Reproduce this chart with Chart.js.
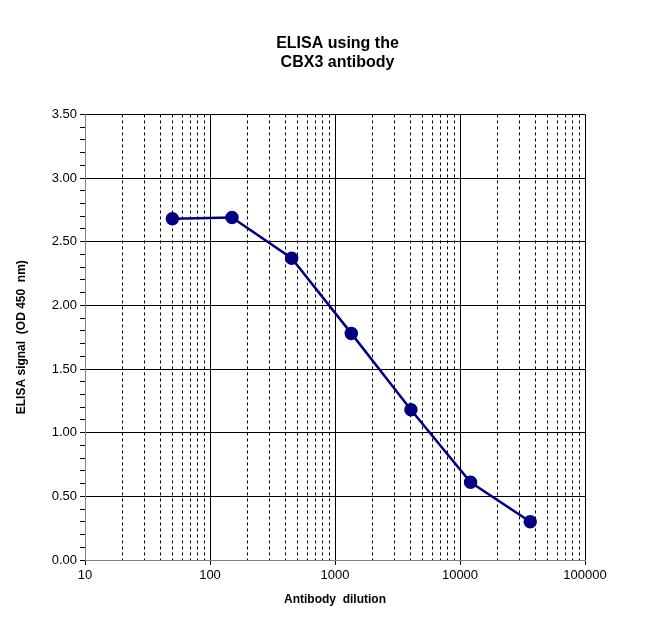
<!DOCTYPE html>
<html><head><script src="https://cdn.jsdelivr.net/npm/chart.js@4"></script>
<style>body{margin:0;background:#fff}#w{width:665px;height:619px}</style></head>
<body><div id="w"><canvas id="c"></canvas></div>
<script>
const dilutions=[50,150,450,1350,4050,12150,36450];
const signals=[2.68,2.69,2.37,1.78,1.18,0.61,0.30];
const xMajor=[10,100,1000,10000,100000];
const F='"Liberation Sans", Arial, sans-serif';
const minor=[];for(let d=10;d<100000;d*=10)for(let k=2;k<=9;k++)minor.push(d*k);
const isMaj=v=>Math.abs(v*2-Math.round(v*2))<1e-6;
new Chart(document.getElementById('c'),{type:'line',
data:{datasets:[{data:dilutions.map((x,i)=>({x,y:signals[i]})),borderColor:'#000080',backgroundColor:'#000080',borderWidth:2.5,pointRadius:5.5,tension:0}]},
options:{animation:false,responsive:true,maintainAspectRatio:false,
layout:{padding:{top:10,right:0,bottom:8,left:10}},
plugins:{legend:{display:false},tooltip:{enabled:false},
title:{display:true,text:['ELISA using the','CBX3 antibody'],font:{family:F,size:16,weight:'bold'},color:'#000',padding:{top:24,bottom:42},lineHeight:1.2}},
scales:{
x:{type:'logarithmic',min:10,max:100000,afterBuildTicks:a=>{a.ticks=xMajor.map(v=>({value:v}))},
ticks:{callback:v=>String(v),color:'#000',font:{family:F,size:13},maxRotation:0,autoSkip:false},
grid:{color:'#000',lineWidth:1,tickLength:5},border:{color:'#808080'},
title:{display:true,text:'Antibody  dilution',color:'#000',font:{family:F,size:12,weight:'bold'},padding:{top:6}}},
x2:{type:'logarithmic',min:10,max:100000,position:'bottom',display:true,afterBuildTicks:a=>{a.ticks=minor.map(v=>({value:v}))},
ticks:{display:false},grid:{color:'#000',lineWidth:1,drawTicks:false},border:{display:false,dash:[3,3]}},
y:{min:0,max:3.5,afterFit:s=>{s.width=75},afterBuildTicks:a=>{const t=[];for(let i=0;i<=35;i++)t.push({value:i/10});a.ticks=t},
ticks:{autoSkip:false,callback:v=>isMaj(v)?v.toFixed(2):'',color:'#000',font:{family:F,size:13}},
grid:{color:c=>isMaj(c.tick.value)?'#000':'rgba(0,0,0,0)',tickColor:'#000',lineWidth:1,tickLength:5},border:{color:'#808080'},
title:{display:true,text:'ELISA signal  (OD 450  nm)',color:'#000',font:{family:F,size:12,weight:'bold'},padding:{bottom:6}}},
yr:{min:0,max:3.5,position:'right',display:true,afterFit:s=>{s.width=80},ticks:{display:false},grid:{display:false},border:{display:false}}
}}});
</script></body></html>
